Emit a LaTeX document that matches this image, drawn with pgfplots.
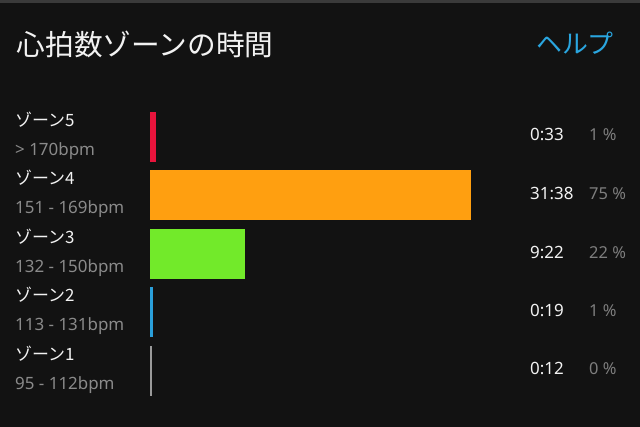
\documentclass[border=0pt]{standalone}
\usepackage{fontspec}
\usepackage{pgfplots}
\pgfplotsset{compat=1.18}
\setmainfont{Noto Sans}
\newfontfamily\jp{Noto Sans CJK JP}

\definecolor{bg}{HTML}{121212}
\definecolor{topline}{HTML}{3A3A3A}
\definecolor{zfive}{HTML}{E8143C}
\definecolor{zfour}{HTML}{FF9F10}
\definecolor{zthree}{HTML}{72EA2A}
\definecolor{ztwo}{HTML}{2A9FDA}
\definecolor{zone}{HTML}{9A9A9A}
\definecolor{helpblue}{HTML}{2AA6E0}
\definecolor{subgray}{HTML}{8A8A8A}
\definecolor{pctgray}{HTML}{7E7E7E}
\definecolor{txt}{HTML}{F2F2F2}

\begin{document}
\begin{tikzpicture}
\useasboundingbox (0,0) rectangle (640bp,-427bp);
\fill[bg] (0,0) rectangle (640bp,-427bp);
\fill[topline] (0,0) rectangle (640bp,-3bp);

% title and help link
\node[anchor=west, inner sep=0, text=txt, font=\jp\fontsize{28.8}{32}\selectfont]
  at (16.5bp,-44.5bp) {心拍数ゾーンの時間};
\node[anchor=east, inner sep=0, text=helpblue, font=\jp\fontsize{26}{30}\selectfont]
  at (614bp,-43.5bp) {ヘルプ};

% bars: time in zone, seconds
\begin{axis}[
  at={(150bp,-400.3bp)}, anchor=south west,
  scale only axis, width=320.7bp, height=293.1bp,
  xmin=0, xmax=1898, ymin=0.5, ymax=5.5,
  hide axis, clip=false,
  xbar, bar width=50bp, bar shift=0pt,
  ]
  \addplot[draw=none, fill=zfive]  coordinates {(33,5)};
  \addplot[draw=none, fill=zfour]  coordinates {(1898,4)};
  \addplot[draw=none, fill=zthree] coordinates {(562,3)};
  \addplot[draw=none, fill=ztwo]   coordinates {(19,2)};
  \addplot[draw=none, fill=zone]   coordinates {(12,1)};
\end{axis}

% row labels
\foreach \z/\r/\top/\tb/\tm/\pc in {
    5/{> 170bpm}/112/140/0:33/1,
    4/{151 - 169bpm}/170/199/31:38/75,
    3/{132 - 150bpm}/229/258/9:22/22,
    2/{113 - 131bpm}/287/316/0:19/1,
    1/{95 - 112bpm}/346/374/0:12/0} {
  \node[anchor=base west, inner sep=0, text=txt, font=\jp\fontsize{17}{20}\selectfont]
    at (15bp,-\top bp-14bp) {ゾーン\z};
  \node[anchor=base west, inner sep=0, text=subgray, font=\fontsize{17}{20}\selectfont]
    at (15bp,-\top bp-43bp) {\r};
  \node[anchor=base west, inner sep=0, text=txt, font=\fontsize{17}{20}\selectfont]
    at (530bp,-\tb bp) {\tm};
  \node[anchor=base west, inner sep=0, text=pctgray, font=\fontsize{16.5}{20}\selectfont]
    at (589bp,-\tb bp) {\pc\ \%};
}
\end{tikzpicture}
\end{document}
